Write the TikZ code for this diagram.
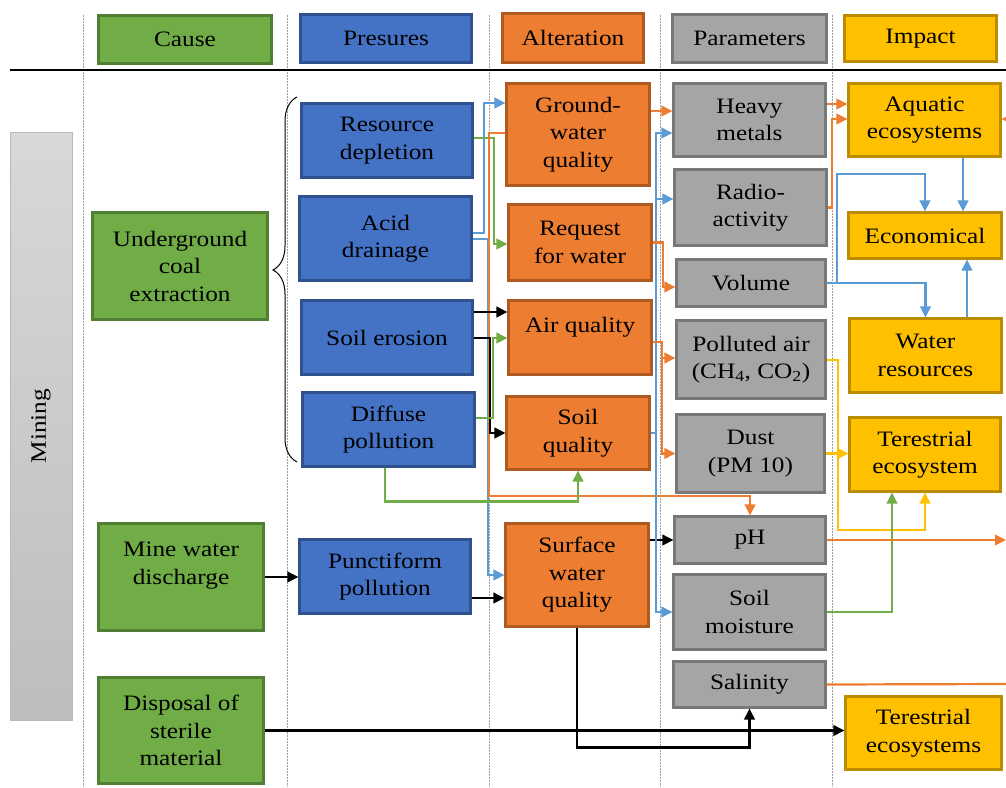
\documentclass[tikz,border=0pt]{standalone}
\usepackage{fontspec}
\setmainfont[FakeStretch=1.15]{Liberation Serif}
\usetikzlibrary{arrows.meta,calc,decorations.pathreplacing}
\definecolor{cGreen}{HTML}{70AD47}
\definecolor{cGreenD}{HTML}{507E32}
\definecolor{cBlue}{HTML}{4472C4}
\definecolor{cBlueD}{HTML}{2F528F}
\definecolor{cOrange}{HTML}{ED7D31}
\definecolor{cOrangeD}{HTML}{AE5A21}
\definecolor{cGray}{HTML}{A5A5A5}
\definecolor{cGrayD}{HTML}{787878}
\definecolor{cGold}{HTML}{FFC000}
\definecolor{cGoldD}{HTML}{BC8C00}
\definecolor{cLBlue}{HTML}{5B9BD5}
\definecolor{cMinT}{HTML}{D8D8D8}
\definecolor{cMinB}{HTML}{BDBDBD}
\begin{document}
\begin{tikzpicture}[x=1pt,y=-1pt,
  font=\fontsize{22}{27.5}\selectfont,
  box/.style={line width=2.1pt, inner sep=0pt, align=center, text=black},
  gbox/.style={box, fill=cGreen, draw=cGreenD},
  bbox/.style={box, fill=cBlue, draw=cBlueD},
  obox/.style={box, fill=cOrange, draw=cOrangeD},
  pbox/.style={box, fill=cGray, draw=cGrayD},
  ybox/.style={box, fill=cGold, draw=cGoldD},
  sep/.style={draw=gray!75, line width=0.9pt, dash pattern=on 1.5pt off 1.5pt},
  con/.style={line width=2.2pt, -{Triangle[length=11pt,width=10.5pt]}},
  bl/.style={con, color=cLBlue},
  orl/.style={con, color=cOrange},
  grl/.style={con, color=cGreen},
  yel/.style={con, color=cGold},
  bkl/.style={con, color=black},
  orplain/.style={line width=2.2pt, color=cOrange}
]
\useasboundingbox (0,0) rectangle (1006,787);
\fill[white] (0,0) rectangle (1006,787);

% separators
\foreach \xx in {83,287,489,660,832} {\draw[sep] (\xx,15) -- (\xx,787);}
\draw[line width=1.2pt] (10,70) -- (1006,70);

% header
\node[gbox, minimum width=173pt, minimum height=48pt] (hCause) at (185,39.5) {Cause};
\node[bbox, minimum width=171pt, minimum height=48pt] (hPres) at (386,38.5) {Presures};
\node[obox, minimum width=141pt, minimum height=49pt] (hAlt) at (573,38) {Alteration};
\node[pbox, minimum width=154pt, minimum height=48pt] (hPar) at (749.5,38.5) {Parameters};
\node[ybox, minimum width=152pt, minimum height=46pt] (hImp) at (920.5,38.5) {Impact};

% mining
\node[draw=gray!55, line width=1pt, minimum width=62pt, minimum height=588pt,
  top color=cMinT, bottom color=cMinB, inner sep=0pt] (mining) at (41,426) {};
\node[rotate=90, inner sep=0pt] (miningT) at (mining.center) {Mining};

% cause
\node[gbox, minimum width=175pt, minimum height=107pt] (uce) at (180,266) {Underground\\coal\\extraction};
\node[gbox, minimum width=165pt, minimum height=107pt] (mwd) at (181,577) {Mine water\\discharge\\~};
\node[gbox, minimum width=165pt, minimum height=106pt] (dsm) at (181,730.5) {Disposal of\\sterile\\material};

% brace
\draw[line width=1pt, decorate, decoration={brace, amplitude=24pt, aspect=0.526}] (297,462) -- (297,97);

% pressures
\node[bbox, minimum width=171pt, minimum height=74pt] (rd) at (387,140.5) {Resource\\depletion};
\node[bbox, minimum width=172pt, minimum height=84pt] (ad) at (385.5,238.5) {Acid\\drainage};
\node[bbox, minimum width=171pt, minimum height=74pt] (se) at (387,337.5) {Soil erosion};
\node[bbox, minimum width=172pt, minimum height=74pt] (dp) at (388.5,429.5) {Diffuse\\pollution};
\node[bbox, minimum width=171pt, minimum height=74pt] (pp) at (385,576.5) {Punctiform\\pollution};

% alteration
\node[obox, minimum width=143pt, minimum height=102pt] (gw) at (578,134.5) {Ground-\\water\\quality};
\node[obox, minimum width=143pt, minimum height=76pt] (rw) at (580,242.5) {Request\\for water};
\node[obox, minimum width=143pt, minimum height=74pt] (aq) at (580,337.5) {Air quality\\[-3pt]~};
\node[obox, minimum width=143pt, minimum height=73pt] (sq) at (578,433) {Soil\\quality};
\node[obox, minimum width=143pt, minimum height=103pt] (sw) at (577,575) {Surface\\water\\quality};

% parameters
\node[pbox, minimum width=152pt, minimum height=73pt] (hm) at (749.5,120) {Heavy\\metals};
\node[pbox, minimum width=152pt, minimum height=76pt] (ra) at (750.5,207.5) {Radio-\\activity};
\node[pbox, minimum width=149pt, minimum height=47pt] (vol) at (751,283) {Volume};
\node[pbox, minimum width=149pt, minimum height=78pt] (pa) at (751,359.5) {Polluted air\\(CH\textsubscript{4}, CO\textsubscript{2})};
\node[pbox, minimum width=148pt, minimum height=78pt] (du) at (750.5,453.5) {Dust\\(PM 10)};
\node[pbox, minimum width=151pt, minimum height=47pt] (ph) at (750,540) {pH};
\node[pbox, minimum width=152pt, minimum height=75pt] (sm) at (749.5,612) {Soil\\moisture};
\node[pbox, minimum width=152pt, minimum height=46pt] (sal) at (749.5,684.5) {Salinity};

% impact
\node[ybox, minimum width=152pt, minimum height=73pt] (ae) at (924.5,120) {Aquatic\\ecosystems};
\node[ybox, minimum width=153pt, minimum height=46pt] (eco) at (925,235.5) {Economical};
\node[ybox, minimum width=152pt, minimum height=74pt] (wr) at (925.5,355.5) {Water\\resources};
\node[ybox, minimum width=151pt, minimum height=74pt] (te) at (925,454.5) {Terestrial\\ecosystem};
\node[ybox, minimum width=156pt, minimum height=73pt] (tes) at (923.5,733) {Terestrial\\ecosystems};

% free ends at the right edge
\coordinate (eR1) at (1006,119);
\coordinate (eR2) at (1006,540);
\coordinate (eR3) at (1006,684);

% pressures -> alteration
\draw[bl] ($(ad.east)+(0,-5.5)$) -| (484,103) -- ($(gw.west)+(0,-31.5)$);
\draw[bl] ($(ad.east)+(0,0.5)$) -| (488,575) -- (sw.west);
\draw[grl] ($(rd.east)+(0,-2.5)$) -| (494,244) -- ($(rw.west)+(0,1.5)$);
\draw[orl] ($(gw.west)+(0,-1.5)$) -| (489,496) -| (ph.north);
\draw[bkl] ($(se.east)+(0,-25.5)$) -- ($(aq.west)+(0,-25.5)$);
\draw[bkl] ($(se.east)+(0,0.5)$) -| (490,433) -- (sq.west);
\draw[grl] ($(dp.east)+(0,-11.5)$) -| (493,338) -- ($(aq.west)+(0,0.5)$);
\draw[grl] ($(dp.south)+(-3.5,0)$) -- ++(0,34) -| (sq.south);
\draw[bkl] (mwd.east) -- (mwd.east -| pp.west);
\draw[bkl] ($(pp.east)+(0,21.5)$) -- ($(sw.west)+(0,23)$);
\draw[bkl] (dsm.east) -- (dsm.east -| tes.west);
\draw[bkl] (sw.south) -- ++(0,120) -| (sal.south);
\draw[bkl] ($(sw.east)+(0,-35)$) -- (ph.west);

% alteration -> parameters
\draw[orl] ($(gw.east)+(0,-23.5)$) -- ($(hm.west)+(0,-9)$);
\draw[bl] (sq.east) -| (656,133) -- ($(hm.west)+(0,13)$);
\draw[bl] (656,433) |- ($(ra.west)+(0,-8.5)$);
\draw[bl] (656,433) |- (sm.west);
\draw[orl] (rw.east) -| (663,287) -- ($(vol.west)+(0,4)$);
\draw[orl] ($(aq.east)+(0,4.5)$) -| (662,358) -- ($(pa.west)+(0,-1.5)$);
\draw[orl] (662,358) |- (du.west);

% parameters -> impact
\draw[orl] ($(hm.east)+(0,-16)$) -- ($(ae.west)+(0,-16)$);
\draw[orl] (ra.east) -| (832,119) -- ($(ae.west)+(0,-1)$);
\draw[orl] (eR1) -- ($(ae.east)+(0,-1)$);
\draw[bl] ($(ae.south)+(38.5,0)$) -- ($(eco.north)+(38,0)$);
\draw[bl] (vol.east) -| (837,174) -| (eco.north);
\draw[bl] (vol.east) -| (wr.north);
\draw[bl] ($(wr.north)+(41.5,0)$) -- ($(eco.south)+(42,0)$);
\draw[yel] ($(pa.east)+(0,0.5)$) -| (838,530) -| (te.south);
\draw[yel] (du.east) -- (du.east -| te.west);
\draw[grl] (sm.east) -| ($(te.south)+(-33,0)$);
\draw[orl] (ph.east) -- (eR2);
\draw[orplain] (sal.east) -- (eR3);
\end{tikzpicture}
\end{document}
